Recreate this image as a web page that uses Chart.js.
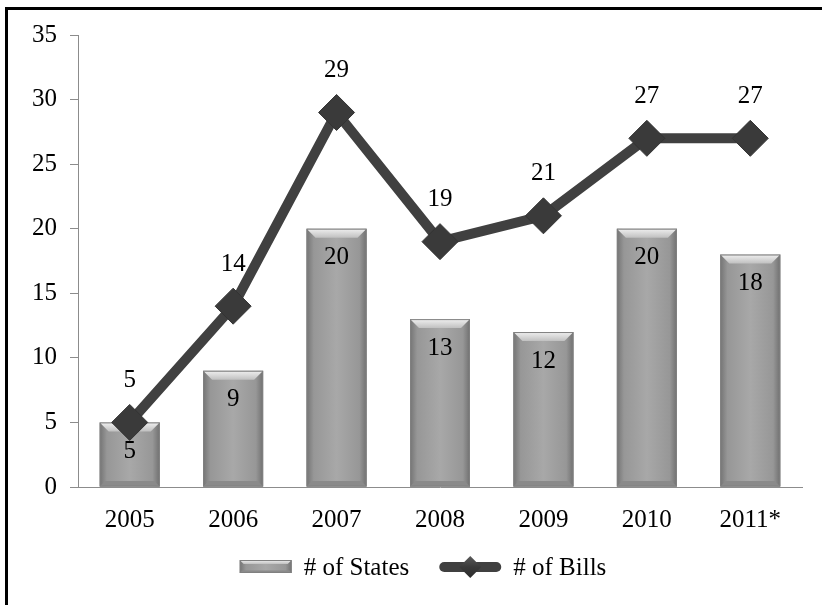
<!DOCTYPE html>
<html>
<head>
<meta charset="utf-8">
<script src="https://cdn.jsdelivr.net/npm/chart.js@4/dist/chart.umd.min.js"></script>
<style>
  body { margin: 0; background: #fff; }
  #wrap { position: relative; width: 822px; height: 605px; }
  #frame { position: absolute; left: 5px; top: 7px; right: 0; bottom: 0;
           border-left: 3px solid #000; border-top: 3px solid #000; pointer-events: none; }
</style>
</head>
<body>
<div id="wrap">
  <canvas id="chart" width="822" height="605"></canvas>
  <div id="frame"></div>
</div>
<script>
const years = ['2005', '2006', '2007', '2008', '2009', '2010', '2011*'];
const states = [5, 9, 20, 13, 12, 20, 18];
const bills = [5, 14, 29, 19, 21, 27, 27];
const legendNames = ['# of States', '# of Bills'];

const FAMILY = '"Liberation Serif", "Times New Roman", Times, serif';
const FONT = '25px ' + FAMILY;
const LINE_COLOR = '#404040';

function barGradient(ctx, left, right) {
    const g = ctx.createLinearGradient(left, 0, right, 0);
    g.addColorStop(0, '#747474');
    g.addColorStop(0.12, '#979797');
    g.addColorStop(0.5, '#a8a8a8');
    g.addColorStop(0.88, '#979797');
    g.addColorStop(1, '#707070');
    return g;
}

// paint one bevelled bar (used for the bars and the legend swatch)
function paintBar(ctx, left, top, right, bottom, bevel) {
    ctx.fillStyle = barGradient(ctx, left, right);
    ctx.fillRect(left, top, right - left, bottom - top);
    const b = Math.min(bevel, (bottom - top) / 2);
    // top bevel
    const tg = ctx.createLinearGradient(0, top, 0, top + b);
    tg.addColorStop(0, '#f0f0f0');
    tg.addColorStop(1, '#c0c0c0');
    ctx.fillStyle = tg;
    ctx.beginPath();
    ctx.moveTo(left, top); ctx.lineTo(right, top);
    ctx.lineTo(right - b, top + b); ctx.lineTo(left + b, top + b);
    ctx.closePath(); ctx.fill();
    // bottom bevel
    ctx.fillStyle = '#8a8a8a';
    ctx.beginPath();
    ctx.moveTo(left, bottom); ctx.lineTo(right, bottom);
    ctx.lineTo(right - b * 0.6, bottom - b * 0.6); ctx.lineTo(left + b * 0.6, bottom - b * 0.6);
    ctx.closePath(); ctx.fill();
    ctx.strokeStyle = '#808080';
    ctx.lineWidth = 1;
    ctx.strokeRect(left + 0.5, top + 0.5, right - left - 1, bottom - top - 1);
}

function diamond(ctx, x, y, r) {
    const g = ctx.createLinearGradient(x, y - r, x, y + r);
    g.addColorStop(0, '#5a5a5a');
    g.addColorStop(0.5, '#3a3a3a');
    g.addColorStop(1, '#2c2c2c');
    ctx.fillStyle = g;
    ctx.beginPath();
    ctx.moveTo(x, y - r); ctx.lineTo(x + r, y);
    ctx.lineTo(x, y + r); ctx.lineTo(x - r, y);
    ctx.closePath(); ctx.fill();
}

const barStyle = {
    id: 'barStyle',
    afterDatasetDraw(chart, args) {
        if (args.index !== 0) return;
        const ctx = chart.ctx;
        ctx.save();
        args.meta.data.forEach(bar => {
            const p = bar.getProps(['x', 'y', 'base', 'width'], true);
            paintBar(ctx, p.x - p.width / 2, p.y, p.x + p.width / 2, p.base, 9);
        });
        ctx.restore();
    }
};

const valueLabels = {
    id: 'valueLabels',
    afterDatasetsDraw(chart) {
        const ctx = chart.ctx;
        ctx.save();
        ctx.font = FONT;
        ctx.fillStyle = '#000';
        ctx.textAlign = 'center';
        ctx.textBaseline = 'middle';
        chart.getDatasetMeta(0).data.forEach((bar, i) => ctx.fillText(states[i], bar.x, bar.y + 29));
        chart.getDatasetMeta(1).data.forEach((pt, i) => ctx.fillText(bills[i], pt.x, pt.y - 42));
        ctx.restore();
    }
};

// legend drawn by hand: a bevelled bar swatch and a thick line with a diamond
const customLegend = {
    id: 'customLegend',
    afterDraw(chart) {
        const ctx = chart.ctx;
        ctx.save();
        ctx.font = FONT;
        const w0 = ctx.measureText(legendNames[0]).width;
        const w1 = ctx.measureText(legendNames[1]).width;
        const total = 52 + 12 + w0 + 30 + 62 + 12 + w1;
        const cy = 567;
        let x = 423 - total / 2;
        paintBar(ctx, x, cy - 7, x + 52, cy + 6, 4);
        x += 52 + 12;
        ctx.fillStyle = '#000';
        ctx.textBaseline = 'middle';
        ctx.textAlign = 'left';
        ctx.fillText(legendNames[0], x, cy + 1);
        x += w0 + 30;
        ctx.strokeStyle = LINE_COLOR;
        ctx.lineWidth = 10;
        ctx.lineCap = 'round';
        ctx.beginPath();
        ctx.moveTo(x + 5, cy); ctx.lineTo(x + 57, cy);
        ctx.stroke();
        diamond(ctx, x + 31, cy, 11);
        x += 62 + 12;
        ctx.fillStyle = '#000';
        ctx.fillText(legendNames[1], x, cy + 1);
        ctx.restore();
    }
};

function draw() {
    new Chart(document.getElementById('chart'), {
        type: 'bar',
        data: {
            labels: years,
            datasets: [{
                type: 'bar',
                label: legendNames[0],
                data: states,
                backgroundColor: '#a0a0a0',
                barPercentage: 0.58,
                categoryPercentage: 1,
                order: 1
            }, {
                type: 'line',
                label: legendNames[1],
                data: bills,
                borderColor: LINE_COLOR,
                borderWidth: 10,
                pointStyle: 'rectRot',
                pointRadius: 18,
                pointBackgroundColor: '#3a3a3a',
                pointBorderColor: '#333',
                pointBorderWidth: 1,
                tension: 0,
                order: 0
            }]
        },
        options: {
            responsive: false,
            animation: false,
            layout: { padding: { top: 35, right: 20, bottom: 63, left: 0 } },
            plugins: {
                legend: { display: false },
                tooltip: { enabled: false }
            },
            scales: {
                x: {
                    grid: { display: false, drawTicks: false },
                    border: { display: true, color: '#8c8c8c', width: 1 },
                    ticks: { color: '#000', font: { family: FAMILY, size: 25 }, padding: 18 },
                    afterFit(scale) { scale.height = 55; }
                },
                y: {
                    min: 0,
                    max: 35,
                    grid: { drawOnChartArea: false, color: '#8c8c8c', tickLength: 8 },
                    border: { display: true, color: '#8c8c8c', width: 1 },
                    ticks: { stepSize: 5, color: '#000', font: { family: FAMILY, size: 25 }, padding: 13 },
                    afterFit(scale) { scale.width = 78; }
                }
            }
        },
        plugins: [barStyle, valueLabels, customLegend]
    });
}

if (document.fonts && document.fonts.load) {
    document.fonts.load(FONT).then(draw, draw);
} else {
    draw();
}
</script>
</body>
</html>
